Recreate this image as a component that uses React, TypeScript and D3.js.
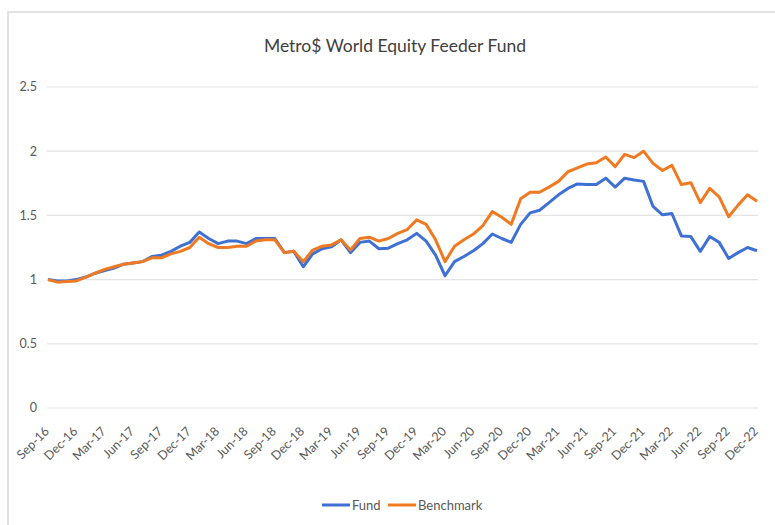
import * as d3 from "d3";

const months = [
  "Sep-16", "Oct-16", "Nov-16", "Dec-16", "Jan-17", "Feb-17", "Mar-17", "Apr-17", "May-17", "Jun-17",
  "Jul-17", "Aug-17", "Sep-17", "Oct-17", "Nov-17", "Dec-17", "Jan-18", "Feb-18", "Mar-18", "Apr-18",
  "May-18", "Jun-18", "Jul-18", "Aug-18", "Sep-18", "Oct-18", "Nov-18", "Dec-18", "Jan-19", "Feb-19",
  "Mar-19", "Apr-19", "May-19", "Jun-19", "Jul-19", "Aug-19", "Sep-19", "Oct-19", "Nov-19", "Dec-19",
  "Jan-20", "Feb-20", "Mar-20", "Apr-20", "May-20", "Jun-20", "Jul-20", "Aug-20", "Sep-20", "Oct-20",
  "Nov-20", "Dec-20", "Jan-21", "Feb-21", "Mar-21", "Apr-21", "May-21", "Jun-21", "Jul-21", "Aug-21",
  "Sep-21", "Oct-21", "Nov-21", "Dec-21", "Jan-22", "Feb-22", "Mar-22", "Apr-22", "May-22", "Jun-22",
  "Jul-22", "Aug-22", "Sep-22", "Oct-22", "Nov-22", "Dec-22",
];

const fund = [
  1.0, 0.99, 0.99, 1.0, 1.02, 1.05, 1.07, 1.09, 1.12, 1.13,
  1.14, 1.18, 1.19, 1.22, 1.26, 1.29, 1.37, 1.32, 1.28, 1.3,
  1.3, 1.28, 1.32, 1.32, 1.32, 1.21, 1.22, 1.1, 1.2, 1.24,
  1.255, 1.31, 1.21, 1.29, 1.3, 1.24, 1.245, 1.28, 1.31, 1.36,
  1.3, 1.19, 1.03, 1.14, 1.18, 1.225, 1.28, 1.355, 1.32, 1.29,
  1.43, 1.52, 1.54, 1.6, 1.66, 1.71, 1.745, 1.74, 1.74, 1.79,
  1.72, 1.79, 1.775, 1.765, 1.57, 1.505, 1.515, 1.34, 1.335, 1.22,
  1.335, 1.29, 1.165, 1.21, 1.25, 1.225,
];

const benchmark = [
  1.0, 0.98, 0.985, 0.99, 1.02, 1.05, 1.08, 1.1, 1.12, 1.13,
  1.14, 1.17, 1.17, 1.2, 1.22, 1.25, 1.33, 1.28, 1.25, 1.25,
  1.26, 1.26, 1.3, 1.31, 1.31, 1.21, 1.22, 1.14, 1.23, 1.26,
  1.27, 1.31, 1.23, 1.32, 1.33, 1.3, 1.32, 1.36, 1.39, 1.465,
  1.43, 1.31, 1.14, 1.26, 1.31, 1.355, 1.42, 1.53, 1.485, 1.43,
  1.63, 1.68, 1.68, 1.72, 1.765, 1.84, 1.87, 1.9, 1.91, 1.955,
  1.88, 1.975, 1.95, 2.0, 1.905, 1.85, 1.89, 1.74, 1.755, 1.6,
  1.71, 1.645, 1.49, 1.58, 1.66, 1.61,
];

const yTicks = [0, 0.5, 1, 1.5, 2, 2.5];
const yTickLabels = ["0", "0.5", "1", "1.5", "2", "2.5"];

const WIDTH = 775;
const HEIGHT = 525;
const LEFT = 47;
const RIGHT = 758;
const TOP = 87;
const BOTTOM = 408;
const FONT = "Lato, 'Open Sans', sans-serif";
const FUND_COLOR = "#3F70D4";
const BENCH_COLOR = "#F07A22";

const App = () => {
  const x = d3.scalePoint<string>().domain(months).range([LEFT + 1, RIGHT - 1]);
  const y = d3.scaleLinear().domain([0, 2.5]).range([BOTTOM, TOP]);

  const line = d3
    .line<number>()
    .x((_, i) => x(months[i]) as number)
    .y((d) => y(d));

  const tickMonths = months.filter((_, i) => i % 3 === 0);

  return (
    <svg
      width={WIDTH}
      height={HEIGHT}
      style={{ position: "absolute", left: 0, top: 0, background: "#fff" }}
    >
      <rect x={8} y={12} width={WIDTH} height={HEIGHT} fill="#fff" stroke="#d9d9d9" strokeWidth={1.5} />
      <text
        x={395}
        y={52}
        textAnchor="middle"
        fontFamily={FONT}
        fontSize={17.5}
        fill="#404040"
      >
        Metro$ World Equity Feeder Fund
      </text>

      {yTicks.map((t, i) => (
        <g key={t}>
          <line x1={LEFT} x2={RIGHT} y1={y(t)} y2={y(t)} stroke="#e3e3e3" strokeWidth={1.2} />
          <text
            x={37}
            y={y(t)}
            dy="0.35em"
            textAnchor="end"
            fontFamily={FONT}
            fontSize={12.5}
            fill="#595959"
          >
            {yTickLabels[i]}
          </text>
        </g>
      ))}

      {tickMonths.map((m) => (
        <text
          key={m}
          transform={`translate(${(x(m) as number) + 2}, ${432}) rotate(-45)`}
          textAnchor="end"
          fontFamily={FONT}
          fontSize={12.5}
          fill="#595959"
        >
          {m}
        </text>
      ))}

      <path d={line(fund) as string} fill="none" stroke={FUND_COLOR} strokeWidth={3} strokeLinejoin="round" />
      <path d={line(benchmark) as string} fill="none" stroke={BENCH_COLOR} strokeWidth={3} strokeLinejoin="round" />

      <g fontFamily={FONT} fontSize={13} fill="#595959">
        <line x1={322} x2={350} y1={505} y2={505} stroke={FUND_COLOR} strokeWidth={3} />
        <text x={352} y={505} dy="0.35em">Fund</text>
        <line x1={388} x2={416} y1={505} y2={505} stroke={BENCH_COLOR} strokeWidth={3} />
        <text x={418} y={505} dy="0.35em">Benchmark</text>
      </g>
    </svg>
  );
};

export default App;
